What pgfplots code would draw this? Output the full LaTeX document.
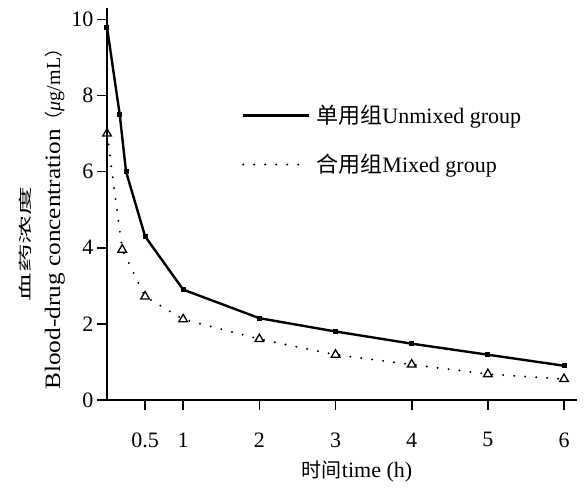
\documentclass[border=0pt]{standalone}
\usepackage{fontspec}
\setmainfont{Liberation Serif}
\newfontfamily\cjk{Noto Sans CJK SC}
\usepackage{graphicx}
\usepackage{pgfplots}
\pgfplotsset{compat=1.18}

\begin{document}
\begin{tikzpicture}
\begin{axis}[
  name=ax,
  scale only axis,
  width=470pt, height=392pt,
  xmin=0, xmax=6.17,
  ymin=0, ymax=10.3,
  axis x line*=bottom, axis y line*=left,
  xtick={0.5,1,2,3,4,5,6},
  xticklabels={0.5,1,2,3,4,5,6},
  ytick={0,2,4,6,8,10},
  tick align=outside,
  major tick length=10pt,
  axis line style={line width=2pt},
  every tick/.style={black,line width=1.6pt},
  tick label style={font=\fontsize{22}{26}\selectfont},
  xticklabel style={yshift=-19pt},
  /pgf/number format/assume math mode=true,
  clip=false,
  legend image code/.code={\draw[#1] (0pt,0pt) -- (66pt,0pt);},
  legend cell align=left,
  legend style={draw=none,fill=none,at={(0.287,0.757)},anchor=north west,
    font=\fontsize{22}{26}\selectfont,row sep=25pt,inner sep=0pt,
    nodes={inner xsep=6pt}}
]
% Unmixed group: solid line, small filled squares
\addplot[black,line width=2.4pt,mark=square*,mark size=1.3pt,
  mark options={solid}] coordinates {
 (0,9.8) (0.167,7.5) (0.25,6.0) (0.5,4.3) (1,2.9) (2,2.15)
 (3,1.8) (4,1.48) (5,1.19) (6,0.9)};
\addlegendentry{{\cjk 单用组}Unmixed group}
% Mixed group: dotted line, open triangles
\addplot[black,line width=2.2pt,line cap=round,dash pattern=on 0pt off 11pt,
  mark=triangle,mark size=5pt,
  mark options={solid,line width=1.3pt,line cap=butt}] coordinates {
 (0,7.0) (0.2,3.95) (0.5,2.72) (1,2.12) (2,1.6)
 (3,1.19) (4,0.93) (5,0.68) (6,0.55)};
\addlegendentry{{\cjk 合用组}Mixed group}

\node[rotate=90,anchor=south west,align=left,inner sep=0pt,
  font=\fontsize{22}{30}\selectfont]
  at ([xshift=-42pt,yshift=10pt]rel axis cs:0,0)
  {\hspace*{88pt}\scalebox{1.6}[0.75]{\cjk\fontsize{18}{20}\selectfont 血药浓度}\\
   \scalebox{1.15}[1]{Blood-drug concentration}{\cjk\fontsize{18}{30}\selectfont （}{\fontsize{20}{30}\selectfont\textit{μ}g/mL}{\cjk\fontsize{18}{30}\selectfont ）}};
\node[anchor=base,font=\fontsize{22}{26}\selectfont]
  at ([yshift=-78pt]rel axis cs:0.532,0) {{\cjk\fontsize{20}{26}\selectfont 时间}time (h)};
\end{axis}
\path ([xshift=-107pt,yshift=-91pt]ax.south west) rectangle ([xshift=10pt,yshift=8pt]ax.north east);
\end{tikzpicture}
\end{document}
